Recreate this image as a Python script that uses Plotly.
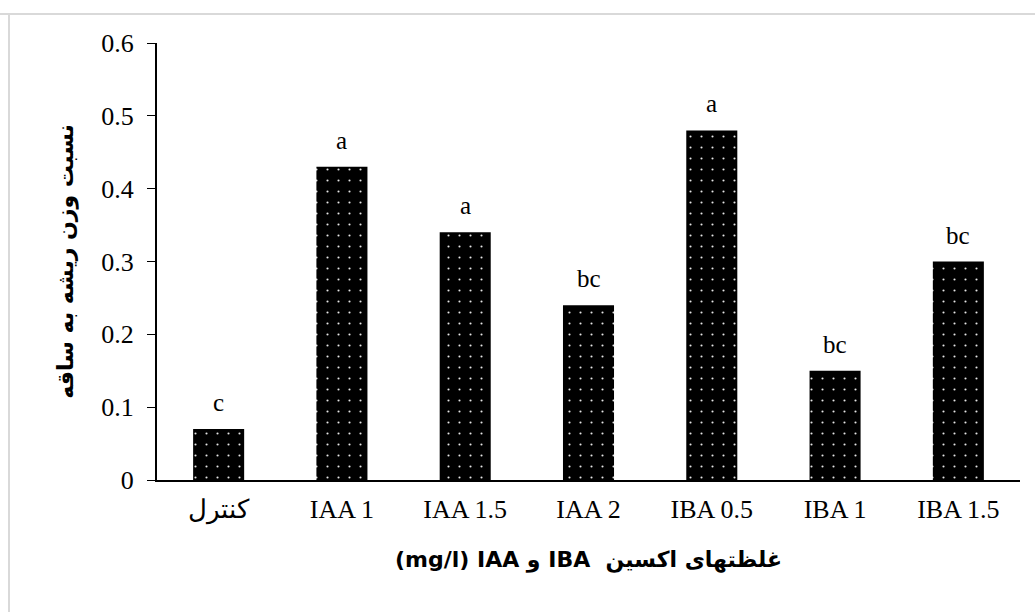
import plotly.graph_objects as go

# Root-to-shoot weight ratio under auxin treatments
categories = ["کنترل", "IAA 1", "IAA 1.5", "IAA 2", "IBA 0.5", "IBA 1", "IBA 1.5"]
ratio = [0.07, 0.43, 0.34, 0.24, 0.48, 0.15, 0.30]
letters = ["c", "a", "a", "bc", "a", "bc", "bc"]
y_ticks = [0, 0.1, 0.2, 0.3, 0.4, 0.5, 0.6]
y_tick_labels = ["0", "0.1", "0.2", "0.3", "0.4", "0.5", "0.6"]

serif = "Liberation Serif, Times New Roman, DejaVu Serif, serif"
bold_ar = "DejaVu Sans, sans-serif"

fig = go.Figure()
fig.add_trace(go.Bar(
    x=categories,
    y=ratio,
    marker=dict(
        color="black",
        line=dict(width=0),
        pattern=dict(shape=".", bgcolor="black", fgcolor="#e6e6e6",
                     size=11, solidity=0.03, fillmode="replace"),
    ),
    width=0.414,
    showlegend=False,
    hoverinfo="x+y",
))

# significance letters above each bar
for c, v, t in zip(categories, ratio, letters):
    fig.add_annotation(x=c, y=v, text=t, showarrow=False, yanchor="bottom",
                       yshift=11, font=dict(family=serif, size=25, color="black"))

fig.update_layout(
    width=1035, height=612,
    margin=dict(l=157, r=15, t=43, b=132),
    paper_bgcolor="white", plot_bgcolor="white",
    font=dict(family=serif, size=25, color="black"),
    xaxis=dict(
        showline=True, linecolor="black", linewidth=2,
        ticks="", showgrid=False, zeroline=False,
        ticklabelstandoff=5,
        tickfont=dict(family=serif, size=26),
        title=dict(text="(mg/l) IAA و IBA  غلظتهای اکسین",
                   font=dict(family=bold_ar, size=22, weight="bold"),
                   standoff=27),
    ),
    yaxis=dict(
        range=[0, 0.6], tickvals=y_ticks, ticktext=y_tick_labels,
        showline=True, linecolor="black", linewidth=2,
        ticks="outside", ticklen=8, tickwidth=1, tickcolor="black",
        showgrid=False, zeroline=False,
        ticklabelstandoff=8,
        tickfont=dict(family=serif, size=26),
        title=dict(text="نسبت وزن ریشه به ساقه",
                   font=dict(family=bold_ar, size=22, weight="bold"),
                   standoff=22),
    ),
    shapes=[
        dict(type="line", xref="paper", yref="paper", x0=-157/863, x1=1.02,
             y0=1 + 29/437, y1=1 + 29/437, line=dict(color="#d9d9d9", width=2)),
        dict(type="line", xref="paper", yref="paper", x0=-148/863, x1=-148/863,
             y0=-0.31, y1=1 + 29/437, line=dict(color="#d9d9d9", width=2)),
    ],
)

fig.write_html("out.html")
